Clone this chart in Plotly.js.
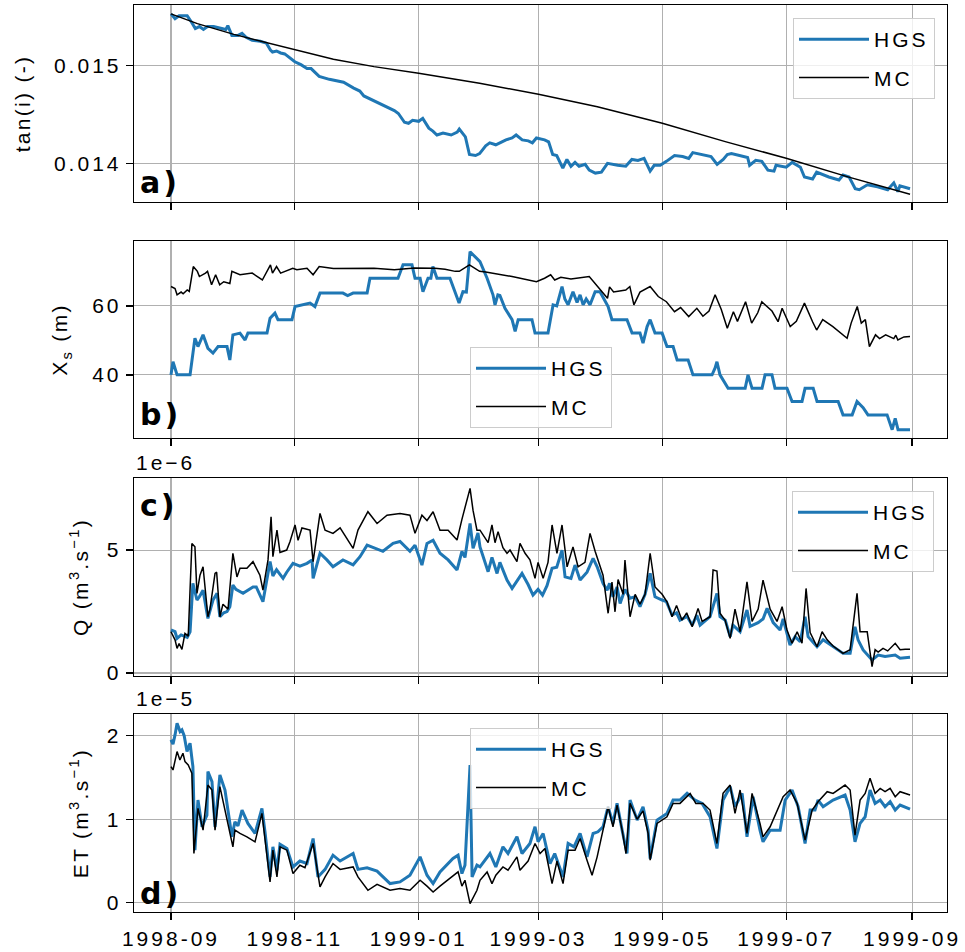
<!DOCTYPE html>
<html>
<head>
<meta charset="utf-8">
<script src="https://cdn.plot.ly/plotly-3.0.1.min.js"></script>
<style>
  html, body { margin: 0; padding: 0; background: #fff; }
  #chart { width: 965px; height: 952px; }
  text { letter-spacing: 3px; }
  text.ytitle, text.y2title, text.y3title, text.y4title { letter-spacing: 2.3px; }
</style>
</head>
<body>
<div id="chart"></div>
<script>
// ---- Data (day offset from 1998-09-01, value) ----
// a) tan(i) (-)
const tanHGS = [[0,0.01553],[2,0.01548],[4,0.01551],[8,0.01551],[10,0.01545],[12,0.01538],[14,0.01540],[16,0.01537],[18,0.01540],[21,0.01540],[25,0.01538],[27,0.01537],[28,0.01541],[30,0.01531],[33,0.01531],[35,0.01533],[37,0.01529],[40,0.01526],[44,0.01525],[47,0.01523],[49,0.01516],[50,0.01514],[52,0.01515],[54,0.01513],[56,0.01512],[58,0.01509],[61,0.01504],[64,0.01501],[67,0.01497],[69,0.01497],[71,0.01493],[73,0.01489],[78,0.01486],[85,0.01483],[90,0.01477],[93,0.01474],[95,0.01469],[97,0.01467],[104,0.01460],[110,0.01454],[112,0.01451],[115,0.01442],[117,0.01441],[119,0.01444],[122,0.01443],[124,0.01446],[127,0.01436],[129,0.01433],[131,0.01429],[134,0.01431],[138,0.01429],[141,0.01432],[142,0.01435],[145,0.01427],[147,0.01409],[150,0.01408],[152,0.01410],[155,0.01418],[157,0.01421],[160,0.01419],[163,0.01422],[165,0.01424],[168,0.01426],[170,0.01429],[173,0.01424],[176,0.01423],[178,0.01421],[180,0.01426],[184,0.01424],[186,0.01422],[188,0.01409],[190,0.01408],[193,0.01395],[195,0.01404],[197,0.01397],[199,0.01401],[201,0.01397],[204,0.01399],[206,0.01393],[209,0.01390],[212,0.01391],[215,0.01400],[220,0.01398],[224,0.01397],[227,0.01404],[230,0.01403],[233,0.01405],[236,0.01392],[238,0.01398],[241,0.01398],[244,0.01402],[248,0.01408],[252,0.01407],[255,0.01405],[257,0.01411],[262,0.01409],[266,0.01407],[269,0.01399],[272,0.01404],[274,0.01409],[276,0.01410],[280,0.01408],[284,0.01406],[285,0.01398],[288,0.01403],[291,0.01402],[294,0.01393],[297,0.01392],[298,0.01398],[303,0.01396],[306,0.01401],[310,0.01396],[312,0.01386],[316,0.01384],[318,0.01391],[324,0.01386],[329,0.01383],[331,0.01388],[334,0.01386],[337,0.01374],[339,0.01373],[343,0.01378],[348,0.01376],[353,0.01373],[356,0.01380],[358,0.01371],[359,0.01377],[364,0.01374]];
const tanMC = [[0,0.01553],[13,0.01543],[31,0.01532],[47,0.015235],[61,0.01516],[80,0.015065],[100,0.01499],[122,0.014922],[152,0.01482],[181,0.014707],[210,0.01458],[242,0.01441],[273,0.014222],[303,0.014052],[333,0.013864],[364,0.013684]];

// b) Xs (m)
const xsHGS = [[0,40],[1,43.8],[3,40],[9.4,40],[11.8,50.6],[13.3,48.2],[15.8,51.6],[18.2,47.7],[20.7,46.3],[23.2,48.2],[27.6,48.2],[29,44.3],[30.5,51.6],[34,52.1],[36.5,50.1],[37.9,52.1],[47.3,52.1],[48.8,56.4],[51.2,57.9],[52.7,56],[59.6,56],[61.1,59.8],[68.5,60.8],[70.9,59.8],[73.4,63.7],[84.7,63.7],[87,63],[89.7,63.7],[96.6,63.7],[98,68],[111.8,68],[114.3,71.9],[118.7,71.9],[120.2,68],[122.7,68],[124.1,64.1],[126.6,68],[128,68],[129,71.4],[131,68],[137.4,68],[139.9,64.1],[141.9,60.8],[143.8,64.1],[145.5,64],[147.3,75.7],[149.8,74.3],[152.2,72.8],[155.7,68],[158.6,63.2],[159.6,60.3],[161,63.2],[162,63],[164.5,59.3],[168,56],[169.5,52.6],[171,56],[177.8,56],[179.3,52.1],[185.7,52.1],[188.2,60.3],[190,60],[192.6,65.6],[194,62],[195.6,60.3],[198,64.1],[200,61],[201.5,63.2],[203,60.3],[204.5,62],[206.4,60.3],[208.9,64.1],[211.3,64.1],[215.3,59.8],[217.2,56],[224.6,56],[227.1,52.1],[231,52.1],[232.5,49.2],[234.5,54],[236,56],[238.4,52.1],[241.9,52.1],[244.3,48.2],[247.3,48.2],[249.3,44.3],[254.7,44.3],[257.1,40],[266.5,40],[268,42],[268.9,43.8],[270.4,40],[274.4,36.1],[282.8,36.1],[284.2,40],[286.2,36.1],[291.1,36.1],[292.6,40],[296,40],[297.5,36.1],[303.4,36.1],[305.9,32.3],[310.8,32.3],[312.3,36.1],[316.3,36.1],[318.2,32.3],[328.6,32.3],[331,28.4],[335.5,28.4],[337.9,32.3],[340.9,30.5],[343.3,28.4],[352.7,28.4],[355.2,24.1],[356.7,27.4],[358.1,24.1],[364,24.1]];
const xsMC = [[0,65.6],[2,65],[3,63.2],[5,64],[6,63.5],[8,64.6],[9,64.2],[11,71.4],[13,70],[14,68.5],[17,69.5],[18,70],[20,66.1],[22,69],[24,66.1],[26,67],[29,66.5],[30,70],[34,69],[37,69.2],[40,69.5],[45,67.5],[47,69.5],[49,71.9],[50,69.5],[52,71.4],[54,69.5],[60,70.9],[62,70.5],[67,70.9],[70,69],[73,71.4],[80,70.8],[90,70.8],[100,70.9],[110,70.5],[120,71],[130,70.9],[135,70.6],[140,70],[142,70],[147,71.9],[150,70.8],[152,70],[155,69.8],[168,68.5],[180,67],[184,68],[187,69],[189,67.5],[192,68.3],[197,67.8],[206,68.5],[211,65.1],[215,62.2],[216,65.5],[218,64],[224,64.6],[226,65.6],[228,60.3],[231,64],[236,65.6],[240,62.7],[244,61.2],[248,58.3],[251,59.5],[255,56.9],[259,59.3],[262,57],[265,58.5],[268,63.2],[271,59],[274,53.5],[277,58.3],[279,55.5],[283,61.2],[286,55],[289,58],[291,61.2],[296,58.5],[299,55.4],[301,59.3],[305,54],[308,55.5],[312,60.8],[316,55.4],[318,53],[321,56],[326,54],[333,50.6],[335,55],[338,59.8],[340,55],[342,56],[344,48.2],[347,51.6],[349,50.5],[352,51.6],[356,50.5],[357,51.5],[358,50.1],[361,51],[364,51.1]];

// c) Q (x1e-6 m3.s-1)
const qHGS = [[0,1.75],[2,1.68],[3,1.41],[5,1.55],[8,1.45],[9.4,1.68],[10.8,3.65],[12.8,2.97],[14,3.1],[15.8,3.37],[18.2,2.22],[20.7,2.97],[22.7,3.24],[24.1,2.29],[26,2.45],[27.6,2.5],[29,2.7],[30.5,3.58],[32,3.4],[35.5,3.24],[40.4,3.5],[42,3.5],[45.3,2.9],[48.8,4.53],[50.2,3.95],[52,4.2],[55.2,3.85],[57,4.1],[60.1,4.46],[63.5,4.35],[67,4.46],[69.5,4.6],[70,3.85],[73.4,4.87],[76.8,4.6],[79.8,4.32],[84.7,4.6],[89.7,4.4],[93.1,4.73],[96.6,5.2],[104.4,4.95],[109.4,5.27],[112.8,5.35],[117.7,4.95],[120.2,5.2],[123.6,4.39],[126.1,5.27],[129.1,5.4],[132.5,4.87],[136.5,4.6],[140.9,4.19],[143.3,4.95],[144.8,4.7],[147.3,6.08],[148.8,5.07],[151.2,5.7],[152.2,5.13],[153.7,4.73],[156.2,4.12],[158.1,4.7],[160.6,4.05],[162,4.5],[165.5,3.78],[168,3.44],[170,3.7],[172.9,4.05],[175.9,3.6],[178.3,3.17],[180.8,3.4],[183,3.17],[185.2,3.55],[187.7,4.26],[190,4.3],[192.6,5.0],[194.1,3.91],[197,3.85],[199,4.39],[201.5,3.78],[204.9,4.1],[207.9,4.66],[209.9,4.32],[212.8,3.65],[214.8,3.37],[216,3.65],[217.7,3.1],[219.7,3.5],[221.2,2.83],[223.6,3.4],[226.1,3.04],[228.6,3.1],[231,2.7],[233.5,3.2],[236,4.05],[238.4,3.1],[241.9,2.97],[244,2.9],[246.8,2.36],[249,2.45],[250.7,2.15],[254.2,2.3],[256.7,1.95],[259,2.35],[260.6,1.95],[265.5,2.29],[268.9,3.24],[270.4,2.29],[273,2.15],[275.4,1.48],[276.8,1.95],[280.3,1.68],[283.7,2.56],[285.2,1.9],[289.2,2.05],[291.6,2.2],[293.6,2.63],[296.6,2.05],[300,1.75],[301.5,2.2],[304.9,1.14],[307.4,1.48],[309.9,1.27],[312.3,2.29],[313.8,1.48],[318.2,1.07],[321.2,1.35],[326.1,1.07],[331,0.8],[334.5,0.8],[336.9,1.88],[338.4,1.35],[340.9,0.94],[345.3,0.53],[348.3,0.73],[351.7,0.67],[356.7,0.73],[359.1,0.6],[364,0.64]];
const qMC = [[0,1.68],[2,1.35],[3,1.0],[4,1.2],[5.4,0.96],[6.9,1.61],[8.5,1.5],[10.3,5.27],[11.8,5.13],[12.8,3.24],[14.3,3.98],[15.8,4.32],[18.2,2.29],[19.2,2.6],[21.7,4.05],[22.5,4.1],[24.1,2.29],[25.6,2.8],[28.1,2.6],[30.5,4.87],[32.5,3.91],[34,4.26],[37.4,4.26],[40.4,4.53],[43.8,3.98],[45.3,3.37],[47.8,4.6],[49.3,6.35],[50.2,4.73],[52.2,5.81],[53.7,4.9],[57,5.0],[58.6,5.34],[61.1,6.02],[62.6,5.4],[64.5,5.9],[68.5,5.81],[70,4.53],[73.4,6.49],[75.9,5.81],[79.8,5.68],[83.3,5.9],[89.7,5.07],[92.1,5.81],[97,6.56],[101.5,6.08],[106.4,6.42],[112.8,6.49],[117.7,6.42],[120.2,5.68],[123.6,6.42],[126.1,6.2],[129.1,6.56],[132.5,5.81],[136.5,5.81],[140.9,5.41],[143.3,6.25],[145.8,7.1],[147.3,7.51],[148.8,6.6],[150.7,5.81],[152.2,5.81],[154,5.6],[156.2,5.3],[158.1,6.02],[159.6,5.3],[161.1,5.75],[163.5,5.1],[165.5,4.87],[167,5.0],[170.4,4.53],[171.9,5.27],[174.4,4.87],[176.8,4.6],[179.3,3.85],[180.8,4.5],[183.3,3.85],[185.7,4.5],[187.7,6.02],[190.1,4.87],[192.6,6.02],[195.1,4.32],[198,5.13],[200.5,4.32],[203.9,4.5],[206.4,5.68],[208.9,4.95],[212.8,3.98],[215.3,2.43],[217.2,3.7],[218.7,2.49],[220.2,3.8],[222.7,3.2],[223.6,4.59],[226.1,2.29],[228.6,3.2],[231,2.8],[233.5,3.2],[236,4.87],[238.4,3.5],[241.9,3.2],[244.3,2.9],[246.8,2.29],[249,2.75],[251.7,2.15],[254,2.45],[256.7,1.88],[259.6,2.63],[261.6,2.1],[265.5,2.29],[267,4.19],[268.9,4.15],[270.4,2.43],[272.9,2.15],[275.4,1.41],[277.8,2.6],[280.3,1.68],[283.7,3.71],[286.2,2.1],[289.2,2.6],[291.6,3.78],[295.1,2.6],[298.5,2.1],[301,2.7],[303.4,1.75],[305.9,1.21],[308.4,1.68],[310.8,1.21],[312.8,3.44],[314.8,1.65],[318.2,1.07],[320.7,1.68],[323.2,1.35],[326.1,1.1],[331,0.8],[334.5,0.95],[337.9,3.24],[339.4,1.68],[342.9,1.68],[345.3,0.26],[346.8,0.95],[348.3,0.85],[350.7,1.0],[353,0.9],[356.7,1.21],[359.1,0.95],[361.6,0.97],[364,0.97]];

// d) ET (x1e-5 m3.s-1)
const etHGS = [[0,1.95],[1,1.9],[2,2.01],[3,2.15],[4.5,2.05],[5.4,2.07],[6.5,2.0],[7.9,1.81],[9.4,1.91],[10.8,1.63],[11.8,0.63],[13.3,1.23],[15.3,0.91],[17.7,1.05],[18.2,1.57],[20.2,1.45],[21.7,0.91],[23.2,1.35],[24.1,1.53],[26.6,1.35],[30,0.79],[31.5,0.97],[33,0.92],[35,1.11],[37.9,0.95],[41.4,0.83],[44.8,1.13],[46.3,0.85],[48.8,0.31],[50.2,0.67],[52.2,0.39],[53.7,0.7],[57.1,0.65],[60.1,0.43],[63.5,0.5],[67,0.47],[70,0.77],[72.4,0.31],[75.9,0.4],[79.8,0.57],[83.3,0.5],[89.7,0.59],[92.1,0.4],[96.6,0.42],[101.5,0.38],[107.9,0.23],[112.8,0.25],[117.7,0.33],[122.7,0.55],[126.1,0.33],[129.1,0.23],[132.5,0.37],[138.9,0.53],[141.4,0.57],[143.3,0.35],[144.8,0.45],[147.3,1.65],[148.3,0.31],[150.7,0.45],[152.2,0.43],[157.1,0.59],[160,0.43],[163.5,0.67],[166,0.59],[170.4,0.79],[172.9,0.59],[176.8,0.71],[179.3,0.91],[180.8,0.73],[183.3,0.83],[186.7,0.47],[189,0.59],[193.1,0.31],[195.6,0.71],[198.5,0.67],[201.5,0.83],[204.9,0.55],[207.9,0.83],[210.3,0.85],[212.8,0.91],[215.3,1.15],[217.7,0.95],[219.7,1.19],[222.2,0.87],[224.6,0.59],[226.1,1.23],[229.6,0.99],[232.5,1.15],[235,0.87],[236,0.53],[239.4,0.99],[244.3,1.07],[247.3,1.23],[250.7,1.23],[254.2,1.31],[258.1,1.23],[261.6,1.19],[265.5,1.03],[268.9,0.65],[271.9,1.23],[275.4,1.39],[277.8,1.15],[281.3,1.31],[283.7,0.79],[286.7,1.27],[290.1,0.87],[291.6,0.73],[295.1,0.87],[300,0.87],[302.5,1.23],[305.9,1.35],[308.9,1.15],[312.3,0.71],[314.8,1.11],[317.2,1.11],[318.7,1.23],[321.2,1.15],[326.1,1.23],[329.6,1.27],[332,1.29],[334.5,1.11],[336.9,0.73],[339.4,0.95],[341.9,1.03],[344.3,1.35],[346.8,1.19],[349.3,1.23],[351.7,1.15],[354.2,1.21],[356.7,1.11],[359.1,1.17],[364,1.12]];
const etMC = [[0,1.63],[1,1.59],[3,1.81],[4.4,1.71],[5.9,1.79],[6.9,1.69],[8.5,1.65],[10.3,1.55],[11.3,0.59],[13.3,1.13],[15.8,0.87],[18.2,1.41],[20.2,1.35],[21.7,0.87],[24.1,1.39],[25.6,1.23],[30.5,0.67],[31.5,0.87],[34,0.83],[37.4,0.79],[41.4,0.73],[44.8,1.07],[46.3,0.75],[48.8,0.25],[50.2,0.63],[52.2,0.31],[53.7,0.67],[57.1,0.63],[60.1,0.35],[63.5,0.45],[66,0.42],[70,0.71],[73.4,0.19],[75.9,0.31],[79.8,0.47],[83.3,0.4],[89.7,0.43],[92.1,0.31],[97,0.15],[101.5,0.22],[107.9,0.15],[112.8,0.17],[117.7,0.15],[122.7,0.27],[126.1,0.2],[129.1,0.13],[132.5,0.2],[138.9,0.33],[141.4,0.37],[143.3,0.2],[144.8,0.27],[147.3,-0.01],[148.5,0.05],[150.7,0.15],[152.2,0.27],[155.7,0.37],[158.1,0.23],[160,0.33],[163.5,0.43],[166,0.39],[170.4,0.55],[171.9,0.39],[175.9,0.5],[179.3,0.71],[181.8,0.59],[184.2,0.65],[187.7,0.23],[190.1,0.5],[193.1,0.23],[195.6,0.63],[199,0.63],[201.5,0.77],[204.9,0.51],[207.4,0.33],[209.9,0.55],[212.8,0.87],[215.3,1.15],[217.7,0.91],[219.7,1.17],[222.2,0.87],[224.1,0.59],[226.1,1.19],[229.6,1.0],[232.5,1.1],[235,0.83],[236,0.51],[239.4,0.95],[244.3,1.03],[247.3,1.19],[250.7,1.19],[255.7,1.31],[258.5,1.19],[262.1,1.19],[265.5,1.11],[268.9,0.71],[271.9,1.31],[275.4,1.41],[277.8,1.07],[280.3,1.35],[283.7,0.83],[286.2,1.31],[290.1,0.95],[291.6,0.79],[295.1,0.91],[298.5,1.11],[301.5,1.27],[304.9,1.35],[308.4,1.19],[312.3,0.75],[315.8,1.11],[318.7,1.21],[323.2,1.33],[326.1,1.31],[329.6,1.37],[332,1.41],[334.5,1.35],[336.9,0.81],[339.4,1.23],[341.9,1.31],[344.3,1.49],[346.8,1.31],[349.3,1.37],[351.7,1.33],[354.2,1.37],[356.7,1.27],[359.1,1.33],[364,1.29]];

const startDate = Date.UTC(1998, 8, 1);
const xTickFormat = '%Y-%m';
const seriesNames = ['HGS', 'MC'];

function toDate(d) {
  return new Date(startDate + d * 86400000).toISOString().slice(0, 19).replace('T', ' ');
}
function xs(arr) { return arr.map(p => toDate(p[0])); }
function ys(arr) { return arr.map(p => p[1]); }

const BLUE = '#1f77b4';
const FONT = 'Liberation Sans, Arial, sans-serif';
const panels = [
  {hgs: tanHGS, mc: tanMC, xa: 'x4', ya: 'y', leg: 'legend'},
  {hgs: xsHGS, mc: xsMC, xa: 'x3', ya: 'y2', leg: 'legend2'},
  {hgs: qHGS, mc: qMC, xa: 'x2', ya: 'y3', leg: 'legend3'},
  {hgs: etHGS, mc: etMC, xa: 'x', ya: 'y4', leg: 'legend4'}
];

const traces = [];
panels.forEach(p => {
  traces.push({x: xs(p.hgs), y: ys(p.hgs), xaxis: p.xa, yaxis: p.ya, type: 'scatter', mode: 'lines',
    name: seriesNames[0], legend: p.leg, legendgroup: 'h' + p.leg, line: {color: BLUE, width: 3}});
  traces.push({x: xs(p.mc), y: ys(p.mc), xaxis: p.xa, yaxis: p.ya, type: 'scatter', mode: 'lines',
    name: seriesNames[1], legend: p.leg, legendgroup: 'm' + p.leg, line: {color: 'black', width: 1.5}});
});

const W = 965, H = 952;
const xDom = [134 / W, 947 / W];
const xRange = ['1998-08-13 19:00', '1999-09-18 05:00'];
function yDom(top, bot) { return [1 - bot / H, 1 - top / H]; }

const common = {
  showgrid: true, gridcolor: '#b0b0b0', gridwidth: 1.1,
  showline: true, linecolor: 'black', linewidth: 1.3, mirror: true,
  ticks: 'outside', ticklen: 7, tickwidth: 1.3, tickcolor: 'black',
  zeroline: false,
  tickfont: {family: FONT, size: 21, color: 'black'}
};
function xaxis(showLabels, anchor) {
  return Object.assign({}, common, {
    type: 'date', domain: xDom, range: xRange, anchor: anchor,
    tickmode: 'linear', tick0: '1998-09-01', dtick: 'M2', tickformat: xTickFormat,
    showticklabels: showLabels
  });
}
function yaxis(dom, range, tickvals, ticktext, title, anchor, standoff) {
  return Object.assign({}, common, {
    domain: dom, range: range, anchor: anchor,
    tickmode: 'array', tickvals: tickvals, ticktext: ticktext,
    title: {text: title, font: {family: FONT, size: 21, color: 'black'}, standoff: standoff}
  });
}
function legendAt(x, xanchor, topPx) {
  return {x: x, xanchor: xanchor, y: 1 - topPx / H, yanchor: 'top',
    bgcolor: 'rgba(255,255,255,0.8)', bordercolor: '#cccccc', borderwidth: 1,
    font: {family: FONT, size: 21, color: 'black'}, traceorder: 'grouped', tracegroupgap: 8,
    itemwidth: 70};
}
const labFont = {family: 'DejaVu Sans', size: 30, color: 'black', weight: 'bold'};
const offFont = {family: FONT, size: 21, color: 'black'};

const layout = {
  width: W, height: H,
  margin: {l: 0, r: 0, t: 0, b: 0, autoexpand: false},
  paper_bgcolor: 'white', plot_bgcolor: 'white',
  showlegend: true,
  xaxis: xaxis(true, 'y4'),
  xaxis2: Object.assign(xaxis(false, 'y3'), {matches: 'x'}),
  xaxis3: Object.assign(xaxis(false, 'y2'), {matches: 'x'}),
  xaxis4: Object.assign(xaxis(false, 'y'), {matches: 'x'}),
  yaxis: yaxis(yDom(5, 202), [0.013604, 0.015621], [0.014, 0.015], ['0.014', '0.015'], 'tan(i) (-)', 'x4', 17),
  yaxis2: yaxis(yDom(241, 438), [21.7, 78.8], [40, 60], ['40', '60'], 'X<sub>s</sub> (m)', 'x3', 18),
  yaxis3: yaxis(yDom(478, 676), [-0.12, 7.93], [0, 5], ['0', '5'], 'Q (m<sup>3</sup>.s<sup>\u22121</sup>)', 'x2', 12),
  yaxis4: yaxis(yDom(714, 912), [-0.11, 2.26], [0, 1, 2], ['0', '1', '2'], 'ET (m<sup>3</sup>.s<sup>\u22121</sup>)', 'x', 12),
  legend: legendAt(935 / W, 'right', 18),
  legend2: legendAt(470 / W, 'left', 347),
  legend3: legendAt(934 / W, 'right', 491),
  legend4: legendAt(470 / W, 'left', 728),
  annotations: [
    {text: 'a)', xref: 'paper', yref: 'paper', x: 138 / W, y: 1 - 182 / H, xanchor: 'left', yanchor: 'middle', showarrow: false, font: labFont},
    {text: 'b)', xref: 'paper', yref: 'paper', x: 138 / W, y: 1 - 414 / H, xanchor: 'left', yanchor: 'middle', showarrow: false, font: labFont},
    {text: 'c)', xref: 'paper', yref: 'paper', x: 138 / W, y: 1 - 505 / H, xanchor: 'left', yanchor: 'middle', showarrow: false, font: labFont},
    {text: 'd)', xref: 'paper', yref: 'paper', x: 138 / W, y: 1 - 893 / H, xanchor: 'left', yanchor: 'middle', showarrow: false, font: labFont},
    {text: '1e\u22126', xref: 'paper', yref: 'paper', x: 134 / W, y: 1 - 476 / H, xanchor: 'left', yanchor: 'bottom', showarrow: false, font: offFont},
    {text: '1e\u22125', xref: 'paper', yref: 'paper', x: 134 / W, y: 1 - 712 / H, xanchor: 'left', yanchor: 'bottom', showarrow: false, font: offFont}
  ]
};

Plotly.newPlot('chart', traces, layout, {displayModeBar: false, staticPlot: true});
</script>
</body>
</html>
